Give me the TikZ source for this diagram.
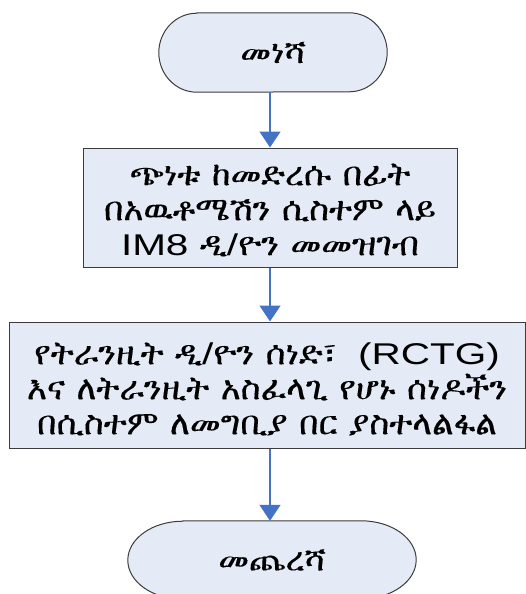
\documentclass[tikz,border=0pt]{standalone}
\usepackage{fontspec}
\setmainfont{Liberation Sans}
\usetikzlibrary{arrows.meta,backgrounds}

% Pick the first installed family that carries Ethiopic letters.
\makeatletter
\def\eth@name{}
\def\eth@try#1{%
  \ifx\eth@name\@empty
    \IfFontExistsTF{#1}{%
      \setbox0=\hbox{\fontspec{#1}\iffontchar\font"1218 \gdef\eth@name{#1}\fi}%
    }{}%
  \fi}
\eth@try{FreeSerif.otf}
\eth@try{FreeSerif}
\eth@try{Abyssinica SIL}
\eth@try{FreeSans.otf}
\ifx\eth@name\@empty
  \newfontfamily\ethfont{Liberation Sans}
\else
  \expandafter\newfontfamily\expandafter\ethfont\expandafter{\eth@name}[Scale=1.27,FakeStretch=1.03,WordSpace=1.35,FakeBold=0.3]
\fi
\makeatother
\newfontfamily\latfont{Liberation Sans}[FakeStretch=1.35]
\newcommand\lat[1]{{\fontsize{30}{35}\selectfont\latfont #1}}

\definecolor{boxfill}{RGB}{229,235,246}
\definecolor{edgegray}{RGB}{60,60,60}
\definecolor{flowblue}{RGB}{68,114,196}

\tikzset{
  textfont/.style={font=\fontsize{26}{35}\selectfont\ethfont},
  terminal/.style={rectangle, inner sep=0pt, textfont},
  terminal edge/.style={draw=edgegray, fill=boxfill, line width=1pt},
  process/.style={rectangle, draw=edgegray, fill=boxfill, line width=1pt,
    inner sep=0pt, align=center, textfont},
  flow/.style={draw=flowblue, line width=1.4pt,
    -{Triangle[width=21pt,length=16pt]}}
}

\begin{document}
\begin{tikzpicture}[x=1pt,y=-1pt]
\useasboundingbox (0,0) rectangle (526,594);

\node[terminal, minimum width=228pt, minimum height=79pt] (start) at (273,52.5) {መነሻ};

\node[process, minimum width=374pt, minimum height=119pt] (register) at (270,207.5) {};
\node[align=center, textfont] (registertext) at (270,210)
  {ጭነቱ ከመድረሱ በፊት\\በአዉቶሜሽን ሲስተም ላይ\\\lat{IM8} ዲ\lat{/}ዮን መመዝገብ};

\node[process, minimum width=516pt, minimum height=126pt] (transit) at (267,385) {};
\node[align=center, textfont] (transittext) at (267,389)
  {የትራንዚት ዲ\lat{/}ዮን ሰነድ፣\hspace{10pt} \lat{(RCTG)}\\እና ለትራንዚት አስፈላጊ የሆኑ ሰነዶችን\\በሲስተም ለመግቢያ በር ያስተላልፋል};

\node[terminal, minimum width=288pt, minimum height=78pt] (finish) at (272,560) {መጨረሻ};

% terminal outlines with elliptical ends, kept behind their labels
\begin{scope}[on background layer]
  \path[terminal edge] ([xshift=38pt]start.north west) -- ([xshift=-38pt]start.north east)
    arc[start angle=90, end angle=-90, x radius=38pt, y radius=39.5pt]
    -- ([xshift=38pt]start.south west)
    arc[start angle=270, end angle=90, x radius=38pt, y radius=39.5pt] -- cycle;
  \path[terminal edge] ([xshift=55pt]finish.north west) -- ([xshift=-55pt]finish.north east)
    arc[start angle=90, end angle=-90, x radius=55pt, y radius=39pt]
    -- ([xshift=55pt]finish.south west)
    arc[start angle=270, end angle=90, x radius=55pt, y radius=39pt] -- cycle;
\end{scope}

\draw[flow] (start.south -| register.north) -- (register.north);
\draw[flow] (register.south) -- (register.south |- transit.north);
\draw[flow] (register.south |- transit.south) -- (register.south |- finish.north);
\end{tikzpicture}
\end{document}
